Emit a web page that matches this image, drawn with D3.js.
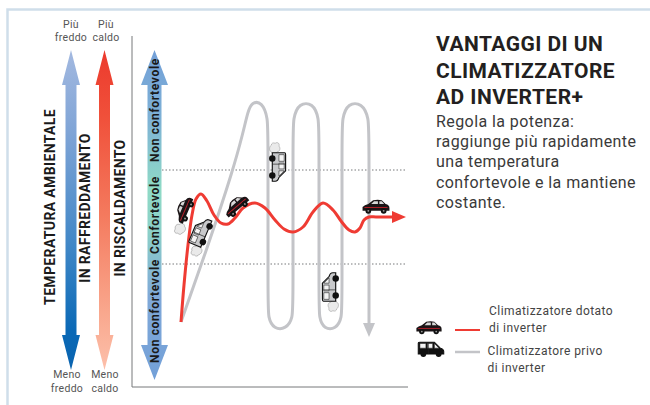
<!DOCTYPE html>
<html>
<head>
<meta charset="utf-8">
<script src="https://cdn.jsdelivr.net/npm/d3@7"></script>
<style>
body { margin:0; background:#fff; }
text { font-family: Roboto, sans-serif; }
</style>
</head>
<body>
<div id="chart"></div>
<script>
// time / temperature (1 unit = 1 px, origin at the curves' start)
const redTime = [0, 3, 7, 11, 15, 20, 26, 33, 40, 47, 54, 62, 74, 84, 94, 103, 112, 122, 132, 142, 152, 160, 168, 174, 179, 183, 188, 195, 225];
const redTemp = [1, 38, 78, 108, 124, 129, 122, 108, 100, 99, 105, 115, 120, 115, 103, 94, 91, 96, 111, 120, 113, 102, 93, 91, 95, 103, 106, 106, 106];
// grey values are spline control points, the curve rounds off the turns
const greyTime = [0, 29, 52, 62, 67, 71, 81, 87, 87, 87, 87, 93, 105, 112, 112, 112, 112, 118, 132, 138, 138, 138, 138, 143, 155, 161, 161, 161, 161, 167, 181, 188, 188, 188];
const greyTemp = [1, 83, 153, 190, 212, 221, 221, 205, 185, 23, 5, -6, -6, 5, 23, 185, 205, 220, 220, 205, 185, 23, 5, -6, -6, 5, 23, 185, 205, 220, 220, 205, 185, 0];
const comfortBounds = [153, 59];

const carMarks = [
  { t: 3.5, v: 113, a: -67, smoke: true },
  { t: 55.5, v: 117, a: -40, smoke: false },
  { t: 195, v: 116, a: 0, smoke: false }
];
const vanMarks = [
  { t: 20, v: 91, a: -67 },
  { t: 97, v: 156, a: 90 },
  { t: 149, v: 36, a: -90 }
];

const titleLines = ["VANTAGGI DI UN", "CLIMATIZZATORE", "AD INVERTER+"];
const bodyLines = ["Regola la potenza:", "raggiunge più rapidamente", "una temperatura", "confortevole e la mantiene", "costante."];
const legendRed = ["Climatizzatore dotato", "di inverter"];
const legendGrey = ["Climatizzatore privo", "di inverter"];

const width = 650, height = 405;
const svg = d3.select("#chart").append("svg")
  .attr("width", width).attr("height", height)
  .style("display", "block");

const x = d3.scaleLinear().domain([0, 225]).range([181, 406]);
const y = d3.scaleLinear().domain([0, 220]).range([323, 103]);

const defs = svg.append("defs");
function gradient(id, stops) {
  const g = defs.append("linearGradient").attr("id", id)
    .attr("gradientUnits", "userSpaceOnUse")
    .attr("x1", 0).attr("x2", 0).attr("y1", 50).attr("y2", 380);
  stops.forEach(s => g.append("stop").attr("offset", s[0]).attr("stop-color", s[1]));
}
gradient("gBlue", [[0, "#a3b9e0"], [0.25, "#7fa4d6"], [0.6, "#3f86c6"], [0.85, "#0a69b6"], [1, "#0a62ae"]]);
gradient("gRed", [[0, "#ec3a2d"], [0.2, "#f0503a"], [0.5, "#f47a5e"], [0.8, "#f9a88e"], [1, "#fdc4b0"]]);
gradient("gBand", [[0, "#73a0d8"], [0.2, "#7db0d6"], [0.42, "#8fdac6"], [0.55, "#8cd0c8"], [0.75, "#7fa8d8"], [1, "#73a0d8"]]);

// frame
svg.append("path").attr("d", "M7.5,405V9.5H650").attr("fill", "none")
  .attr("stroke", "#cfdeea").attr("stroke-width", 2.5);

// double headed arrows
function arrow(cx, top, bot, headLen, headW, shaftW, fill) {
  const d = d3.path();
  d.moveTo(cx, top);
  d.lineTo(cx + headW, top + headLen);
  d.lineTo(cx + shaftW, top + headLen);
  d.lineTo(cx + shaftW, bot - headLen);
  d.lineTo(cx + headW, bot - headLen);
  d.lineTo(cx, bot);
  d.lineTo(cx - headW, bot - headLen);
  d.lineTo(cx - shaftW, bot - headLen);
  d.lineTo(cx - shaftW, top + headLen);
  d.lineTo(cx - headW, top + headLen);
  d.closePath();
  svg.append("path").attr("d", d.toString()).attr("fill", fill);
}
arrow(71, 50, 370, 35, 9, 5.5, "url(#gBlue)");
arrow(104.5, 50, 370, 35, 9, 5.5, "url(#gRed)");
arrow(154.5, 50, 380, 35, 13.5, 7, "url(#gBand)");

// rotated labels
function vLabel(cx, cy, s, size, spacing) {
  svg.append("text")
    .attr("transform", `translate(${cx},${cy}) rotate(-90)`)
    .attr("text-anchor", "middle")
    .attr("font-size", size).attr("font-weight", 700)
    .attr("letter-spacing", spacing)
    .attr("fill", "#1a1a1a").text(s);
}
vLabel(55, 207, "TEMPERATURA AMBIENTALE", 14, 0.35);
vLabel(90, 208, "IN RAFFREDDAMENTO", 14, 0.35);
vLabel(125, 208, "IN RISCALDAMENTO", 14, 0.35);
vLabel(159, 110, "Non confortevole", 12, 0.65);
vLabel(159, 215, "Confortevole", 12, 0.65);
vLabel(159, 311, "Non confortevole", 12, 0.65);

// end labels
function smallText(cx, yy, s) {
  svg.append("text").attr("x", cx).attr("y", yy).attr("text-anchor", "middle")
    .attr("font-size", 10.5).attr("letter-spacing", 0.3).attr("fill", "#555").text(s);
}
smallText(71, 28, "Più");
smallText(71, 41, "freddo");
smallText(106, 28, "Più");
smallText(106, 41, "caldo");
smallText(67, 378, "Meno");
smallText(67, 392, "freddo");
smallText(105, 378, "Meno");
smallText(105, 392, "caldo");

// axes
svg.append("path").attr("d", "M132,36V387H408").attr("fill", "none")
  .attr("stroke", "#77787b").attr("stroke-width", 1);

// comfort limits
svg.selectAll("line.comfort").data(comfortBounds).join("line")
  .attr("class", "comfort")
  .attr("x1", 162).attr("x2", 407)
  .attr("y1", d => y(d)).attr("y2", d => y(d))
  .attr("stroke", "#77787b").attr("stroke-width", 1)
  .attr("stroke-dasharray", "1.5 2");

const greyLine = d3.line().x(d => x(d[0])).y(d => y(d[1])).curve(d3.curveBasis);
const redLine = d3.line().x(d => x(d[0])).y(d => y(d[1])).curve(d3.curveCatmullRom.alpha(0.5));

// grey curve
svg.append("path")
  .datum(d3.zip(greyTime, greyTemp))
  .attr("d", greyLine).attr("fill", "none")
  .attr("stroke", "#c3c4c8").attr("stroke-width", 3);
const gEnd = x(greyTime[greyTime.length - 1]);
svg.append("path")
  .attr("d", `M${gEnd - 6},${y(0)}H${gEnd + 6}L${gEnd},${y(-14)}Z`)
  .attr("fill", "#c3c4c8");

// red curve
svg.append("path")
  .datum(d3.zip(redTime.slice(0, -1), redTemp.slice(0, -1)).concat([[redTime[redTime.length - 1] - 10, redTemp[redTemp.length - 1]]]))
  .attr("d", redLine).attr("fill", "none")
  .attr("stroke", "#ef3b33").attr("stroke-width", 3);
const rEnd = x(redTime[redTime.length - 1]), rY = y(redTemp[redTemp.length - 1]);
svg.append("path")
  .attr("d", `M${rEnd - 14},${rY - 6}L${rEnd},${rY}L${rEnd - 14},${rY + 6}Z`)
  .attr("fill", "#ef3b33");

// vehicles
function smoke(g) {
  g.append("path")
    .attr("transform", "translate(2,3)")
    .attr("d", "M-27,0 C-29,-3 -26,-5 -24,-4 C-22,-6 -18,-5 -18,-2 C-15,-1 -15,3 -18,4 C-19,7 -24,6 -25,4 C-27,4 -28,2 -27,0Z")
    .attr("fill", "#eaeaea").attr("stroke", "#888").attr("stroke-width", 0.5);
}
function drawCar(px, py, a, scale, hasSmoke) {
  const g = svg.append("g").attr("transform", `translate(${px},${py}) rotate(${a}) scale(${scale})`);
  if (hasSmoke) smoke(g);
  g.append("path").attr("d", "M-14,4 L-14,0 Q-12,-2 -8,-3 L-3,-7 Q2,-8 6,-7 L10,-3 Q14,-2 14,1 L14,4Z").attr("fill", "#1a1416");
  g.append("path").attr("d", "M-5,-3 L-2,-6 L2,-6 L2,-3Z M3.5,-6 L6,-6 L8.5,-3 L3.5,-3Z").attr("fill", "#d8d8d8");
  g.append("line").attr("x1", -12).attr("x2", 12).attr("y1", 0.5).attr("y2", 0.5).attr("stroke", "#b81f2a").attr("stroke-width", 1);
  [-8, 8].forEach(w => {
    g.append("circle").attr("cx", w).attr("cy", 4).attr("r", 3).attr("fill", "#111");
    g.append("circle").attr("cx", w).attr("cy", 4).attr("r", 1).attr("fill", "#999");
  });
}
function drawVan(px, py, a, scale, hasSmoke, body) {
  const g = svg.append("g").attr("transform", `translate(${px},${py}) rotate(${a}) scale(${scale})`);
  if (hasSmoke) smoke(g);
  g.append("path").attr("d", "M-15,6 L-15,-7 Q-15,-8 -13,-8 L4,-8 L11,-1 Q15,0 15,3 L15,6Z")
    .attr("fill", body).attr("stroke", "#111").attr("stroke-width", 1.2);
  g.append("path").attr("d", "M-13,-6.5 H-6 V-1 H-13Z M-4,-6.5 H2 V-1 H-4Z M4,-6.5 L9.5,-1 H4Z")
    .attr("fill", "#f4f4f4").attr("stroke", "#222").attr("stroke-width", 0.6);
  g.append("line").attr("x1", -3).attr("x2", -3).attr("y1", -7).attr("y2", 6).attr("stroke", "#222").attr("stroke-width", 0.7);
  [-9, 9].forEach(w => g.append("circle").attr("cx", w).attr("cy", 6).attr("r", 3.4).attr("fill", "#111"));
}
carMarks.forEach(d => drawCar(x(d.t), y(d.v), d.a, 0.96, d.smoke));
vanMarks.forEach(d => drawVan(x(d.t), y(d.v), d.a, 0.95, true, "#c9cacc"));

// right hand text
svg.selectAll("text.title").data(titleLines).join("text")
  .attr("class", "title")
  .attr("x", 436).attr("y", (d, i) => 51 + i * 26.5)
  .attr("font-size", 21).attr("font-weight", 700).attr("letter-spacing", 0.45).attr("fill", "#231f20").text(d => d);
svg.selectAll("text.body").data(bodyLines).join("text")
  .attr("class", "body")
  .attr("x", 436).attr("y", (d, i) => 127 + i * 20.2)
  .attr("font-size", 16).attr("letter-spacing", 0.42).attr("fill", "#3a3a3a").text(d => d);

// legend
drawCar(429, 328, 0, 0.9, false);
drawVan(431, 349, 0, 0.85, false, "#111");
svg.append("line").attr("x1", 455).attr("x2", 480).attr("y1", 330).attr("y2", 330)
  .attr("stroke", "#ef3b33").attr("stroke-width", 2);
svg.append("line").attr("x1", 455).attr("x2", 480).attr("y1", 352).attr("y2", 352)
  .attr("stroke", "#c3c4c8").attr("stroke-width", 2.5);
function legendText(lines, lx, y0, y1) {
  lines.forEach((s, i) => svg.append("text").attr("x", lx).attr("y", i ? y1 : y0)
    .attr("font-size", 12).attr("letter-spacing", 0.45).attr("fill", "#444").text(s));
}
legendText(legendRed, 489, 315, 332);
legendText(legendGrey, 487.5, 355, 372);
</script>
</body>
</html>
